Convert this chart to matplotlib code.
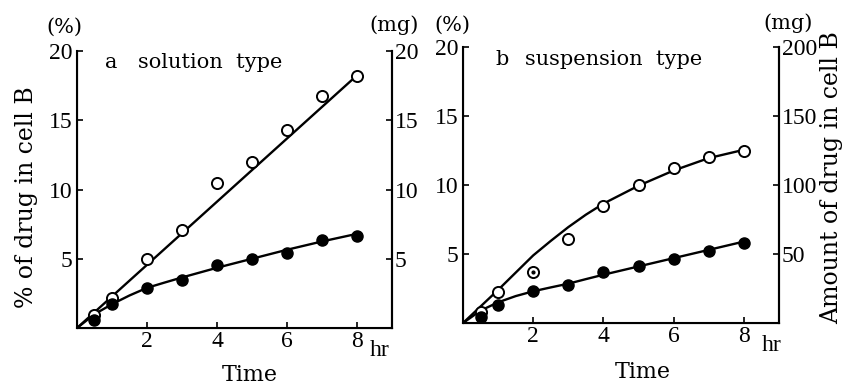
import matplotlib
matplotlib.use("Agg")
import matplotlib.pyplot as plt

plt.rcParams['font.family'] = ['DejaVu Serif']

# Measured time points (hr)
t_pts = [0.5, 1, 2, 3, 4, 5, 6, 7, 8]

# Panel a: solution type (% of drug in cell B)
a_open = [0.96, 2.16, 4.97, 7.08, 10.44, 12.0, 14.29, 16.73, 18.17]
a_filled = [0.6, 1.75, 2.88, 3.48, 4.56, 4.97, 5.40, 6.36, 6.65]

# Panel b: suspension type
b_open = [0.8, 2.24, 3.73, 6.07, 8.48, 9.98, 11.25, 12.05, 12.48]
b_filled = [0.43, 1.33, 2.29, 2.72, 3.66, 4.1, 4.63, 5.25, 5.78]

# Drawn curves
t_curve = [0, 0.5, 1, 1.5, 2, 2.5, 3, 3.5, 4, 5, 6, 7, 8]
a_open_curve = [0, 1.14, 2.28, 3.42, 4.56, 5.7, 6.84, 7.98, 9.12, 11.4, 13.68, 15.96, 18.24]
a_filled_curve = [0, 1.0, 1.72, 2.35, 2.9, 3.28, 3.65, 4.0, 4.35, 5.0, 5.65, 6.25, 6.8]
b_open_curve = [0, 1.2, 2.4, 3.65, 4.9, 5.95, 6.95, 7.85, 8.65, 9.95, 11.05, 11.95, 12.55]
b_filled_curve = [0, 0.9, 1.5, 1.95, 2.3, 2.58, 2.85, 3.18, 3.5, 4.1, 4.7, 5.3, 5.9]

x_ticks = [2, 4, 6, 8]
y_ticks = [5, 10, 15, 20]
a_right_ticks = [5, 10, 15, 20]
b_right_ticks = [50, 100, 150, 200]

fs = 15
tick_font = {'family': 'Liberation Serif', 'size': 17}

fig = plt.figure(figsize=(8.46, 3.85), dpi=100)
ax_a = fig.add_axes([0.091, 0.148, 0.3723, 0.7195])
ax_b = fig.add_axes([0.5473, 0.161, 0.3735, 0.717])


def draw_panel(ax, open_v, filled_v, open_c, filled_c, right_ticks, right_scale):
    ax.plot(t_curve, open_c, color='black', lw=1.7, zorder=2)
    ax.plot(t_curve, filled_c, color='black', lw=1.7, zorder=2)
    ax.plot(t_pts, open_v, 'o', ms=8, mfc='white', mec='black', mew=1.4, zorder=3)
    ax.plot(t_pts, filled_v, 'o', ms=8, mfc='black', mec='black', zorder=3)
    ax.set_xlim(0, 9)
    ax.set_ylim(0, 20)
    ax.set_xticks(x_ticks)
    ax.set_xticklabels([str(v) for v in x_ticks], fontdict=tick_font)
    ax.set_yticks(y_ticks)
    ax.set_yticklabels([str(v) for v in y_ticks], fontdict=tick_font)
    ax.spines['top'].set_visible(False)
    for s in ['left', 'bottom', 'right']:
        ax.spines[s].set_linewidth(1.5)
    ax.tick_params(direction='in', length=4, width=1.2)
    ax.tick_params(axis='x', pad=2)
    ax.tick_params(axis='y', pad=3.5)
    ax2 = ax.twinx()
    ax2.set_ylim(0, 20 * right_scale)
    ax2.set_yticks(right_ticks)
    ax2.set_yticklabels([str(v) for v in right_ticks], fontdict=tick_font)
    ax2.spines['top'].set_visible(False)
    ax2.spines['right'].set_linewidth(1.5)
    ax2.tick_params(direction='in', length=4, width=1.2, pad=2)
    return ax2


ax2a = draw_panel(ax_a, a_open, a_filled, a_open_curve, a_filled_curve, a_right_ticks, 1)
ax2b = draw_panel(ax_b, b_open, b_filled, b_open_curve, b_filled_curve, b_right_ticks, 10)

# dotted centre of the open point at 2 hr in panel b
ax_b.plot([t_pts[2]], [b_open[2]], 'o', ms=2, color='black', zorder=4)

# panel a texts
ax_a.text(0.089, 0.957, 'a', transform=ax_a.transAxes, va='center', fontsize=fs)
ax_a.text(0.194, 0.957, 'solution  type', transform=ax_a.transAxes, va='center', fontsize=fs)
ax_a.text(0.016, 1.087, '(%)', transform=ax_a.transAxes, ha='right', va='center', fontsize=fs)
ax_a.text(1.006, 1.094, '(mg)', transform=ax_a.transAxes, ha='center', va='center', fontsize=fs)
ax_a.text(0.962, -0.082, 'hr', transform=ax_a.transAxes, ha='center', va='center',
          family='Liberation Serif', fontsize=17)
ax_a.text(0.55, -0.17, 'Time', transform=ax_a.transAxes, ha='center', va='center', fontsize=16)

# panel b texts
ax_b.text(0.104, 0.953, 'b', transform=ax_b.transAxes, va='center', fontsize=fs)
ax_b.text(0.196, 0.953, 'suspension  type', transform=ax_b.transAxes, va='center', fontsize=fs)
ax_b.text(0.022, 1.08, '(%)', transform=ax_b.transAxes, ha='right', va='center', fontsize=fs)
ax_b.text(1.028, 1.087, '(mg)', transform=ax_b.transAxes, ha='center', va='center', fontsize=fs)
ax_b.text(0.978, -0.083, 'hr', transform=ax_b.transAxes, ha='center', va='center',
          family='Liberation Serif', fontsize=17)
ax_b.text(0.57, -0.178, 'Time', transform=ax_b.transAxes, ha='center', va='center', fontsize=16)

# axis titles
fig.text(0.031, 0.488, '% of drug in cell B', rotation=90, ha='center', va='center', fontsize=17)
fig.text(0.983, 0.54, 'Amount of drug in cell B', rotation=90, ha='center', va='center', fontsize=17)

fig.savefig('out.png', dpi=100)
